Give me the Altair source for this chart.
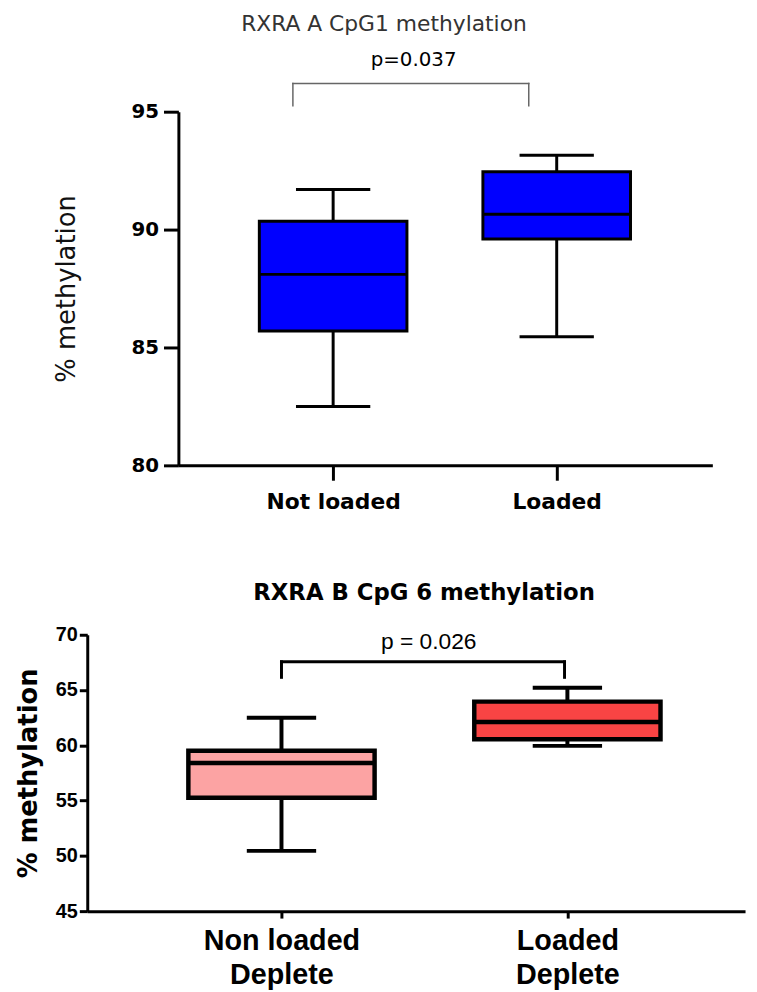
import json
import altair as alt
import pandas as pd

# ---------------- Panel A (top) ----------------
a_groups = ["Not loaded", "Loaded"]
a_min = [82.5, 85.45]
a_q1 = [85.7, 89.6]
a_med = [88.1, 90.65]
a_q3 = [90.35, 92.45]
a_max = [91.7, 93.15]
a_colors = ["#0000FF", "#0000FF"]
a_ticks = [80, 85, 90, 95]
a_title = "RXRA A CpG1 methylation"
a_ptext = "p=0.037"

# ---------------- Panel B (bottom) ----------------
b_groups = ["Non loaded Deplete", "Loaded Deplete"]
b_label_lines = [["Non loaded", "Deplete"], ["Loaded", "Deplete"]]
b_min = [50.45, 59.95]
b_q1 = [55.25, 60.55]
b_med = [58.4, 62.1]
b_q3 = [59.5, 63.95]
b_max = [62.5, 65.2]
b_colors = ["#FCA3A3", "#F94444"]
b_ticks = [45, 50, 55, 60, 65, 70]
b_title = "RXRA B CpG 6 methylation"
b_ptext = "p = 0.026"

# significance annotations (data units)
a_bracket = {"x1": 0.82, "x2": 1.875, "top": 96.2, "end": 95.25, "tx": 1.36, "ty": 97.2}
b_bracket = {"x1": 1.0, "x2": 1.99, "top": 67.55, "end": 66.15, "tx": 1.515, "ty": 69.3}


def panel(groups, mins, q1s, meds, q3s, maxs, colors, ptext, br,
          xscale, yscale, xaxis, yaxis, box_w, box_sw, cap_w, whisk_w,
          br_color, br_w, p_font, p_size, width, height, title):
    df = pd.DataFrame({
        "pos": list(range(1, len(groups) + 1)),
        "group": groups,
        "fill": colors,
        "lo": mins, "q1": q1s, "med": meds, "q3": q3s, "hi": maxs,
    })
    X = lambda f: alt.X(f"{f}:Q", scale=xscale, axis=xaxis)
    Y = lambda f: alt.Y(f"{f}:Q", scale=yscale, axis=yaxis)

    base = alt.Chart(df)
    whisk = base.mark_rule(color="black", strokeWidth=whisk_w).encode(
        x=X("pos"), y=Y("lo"), y2="hi")
    box = base.mark_bar(size=box_w, stroke="black", strokeWidth=box_sw, opacity=1).encode(
        x=X("pos"), y=Y("q1"), y2="q3",
        fill=alt.Fill("fill:N", scale=None))
    med = base.mark_tick(orient="horizontal", size=box_w, thickness=box_sw, color="black", opacity=1).encode(
        x=X("pos"), y=Y("med"))
    cap_lo = base.mark_tick(orient="horizontal", size=cap_w, thickness=whisk_w, color="black", opacity=1).encode(
        x=X("pos"), y=Y("lo"))
    cap_hi = base.mark_tick(orient="horizontal", size=cap_w, thickness=whisk_w, color="black", opacity=1).encode(
        x=X("pos"), y=Y("hi"))

    seg = pd.DataFrame({
        "pos": [br["x1"], br["x1"], br["x2"]],
        "pos2": [br["x2"], br["x1"], br["x2"]],
        "v": [br["top"], br["top"], br["top"]],
        "v2": [br["top"], br["end"], br["end"]],
    })
    bracket = alt.Chart(seg).mark_rule(color=br_color, strokeWidth=br_w, strokeCap="square").encode(
        x=X("pos"), x2="pos2", y=Y("v"), y2="v2")
    ptxt = alt.Chart(pd.DataFrame({"pos": [br["tx"]], "v": [br["ty"]], "t": [ptext]})).mark_text(
        font=p_font, fontSize=p_size, color="black", align="center", baseline="middle").encode(
        x=X("pos"), y=Y("v"), text="t:N")

    return alt.layer(whisk, box, med, cap_lo, cap_hi, bracket, ptxt).properties(
        width=width, height=height, title=title)


# ---- top panel scales/axes ----
a_xscale = alt.Scale(domain=[0.33, 2.674], range=[92, 631], nice=False, zero=False)
a_yscale = alt.Scale(domain=[80, 95], nice=False, zero=False)
a_xaxis = alt.Axis(values=[1, 2], labelExpr=f"{json.dumps(a_groups)}[datum.value - 1]",
                   title=None, grid=False, tickSize=15, tickWidth=3, tickColor="black",
                   domainWidth=3, domainColor="black", labelFont="DejaVu Sans",
                   labelFontWeight="bold", labelFontSize=22, labelColor="black",
                   labelPadding=12, labelFlush=False, labelOverlap=False)
a_yaxis = alt.Axis(values=a_ticks, title="% methylation", grid=False, offset=-92,
                   tickSize=15, tickWidth=3, tickColor="black", domainWidth=3,
                   domainColor="black", labelFont="DejaVu Sans", labelFontWeight="bold",
                   labelFontSize=20, labelColor="black", labelPadding=5,
                   titleFont="DejaVu Sans", titleFontWeight="normal", titleFontSize=26,
                   titleColor="#111", titlePadding=52)
a_title_p = alt.TitleParams(a_title, font="DejaVu Sans", fontSize=22, fontWeight="normal",
                            color="#333", anchor="middle", frame="group", dx=-16, offset=14)

top = panel(a_groups, a_min, a_q1, a_med, a_q3, a_max, a_colors, a_ptext, a_bracket,
            a_xscale, a_yscale, a_xaxis, a_yaxis, box_w=149, box_sw=3, cap_w=75, whisk_w=3,
            br_color="#666", br_w=1.5, p_font="DejaVu Sans", p_size=20,
            width=631, height=357, title=a_title_p)

# ---- bottom panel scales/axes ----
b_xscale = alt.Scale(domain=[0.338, 2.604], nice=False, zero=False)
b_yscale = alt.Scale(domain=[45, 70], nice=False, zero=False)
b_xaxis = alt.Axis(values=[1, 2], labelExpr=f"{json.dumps(b_label_lines)}[datum.value - 1]",
                   title=None, grid=False, tickSize=7, tickWidth=3, tickColor="black",
                   domainWidth=3, domainColor="black", labelFont="Liberation Sans",
                   labelFontWeight="bold", labelFontSize=29, labelLineHeight=34,
                   labelColor="black", labelPadding=9, labelFlush=False, labelOverlap=False)
b_yaxis = alt.Axis(values=b_ticks, title="% methylation", grid=False,
                   tickSize=8, tickWidth=3, tickColor="black", domainWidth=3,
                   domainColor="black", labelFont="Liberation Sans", labelFontWeight="bold",
                   labelFontSize=20, labelColor="black", labelPadding=2,
                   titleFont="DejaVu Sans", titleFontWeight="bold", titleFontSize=26,
                   titleColor="black", titlePadding=14)
b_title_p = alt.TitleParams(b_title, font="DejaVu Sans", fontSize=23, fontWeight="bold",
                            color="black", anchor="middle", frame="group", dx=8, offset=20)

bottom = panel(b_groups, b_min, b_q1, b_med, b_q3, b_max, b_colors, b_ptext, b_bracket,
               b_xscale, b_yscale, b_xaxis, b_yaxis, box_w=188, box_sw=4.5, cap_w=70, whisk_w=4,
               br_color="black", br_w=3, p_font="Liberation Sans", p_size=23,
               width=664, height=279, title=b_title_p)

chart = alt.vconcat(top, bottom, spacing=70).properties(
    padding={"left": 7, "top": 0, "right": 4, "bottom": 4}
).configure_view(stroke=None)

chart.save("out.html", embed_options={"renderer": "svg", "actions": False})
